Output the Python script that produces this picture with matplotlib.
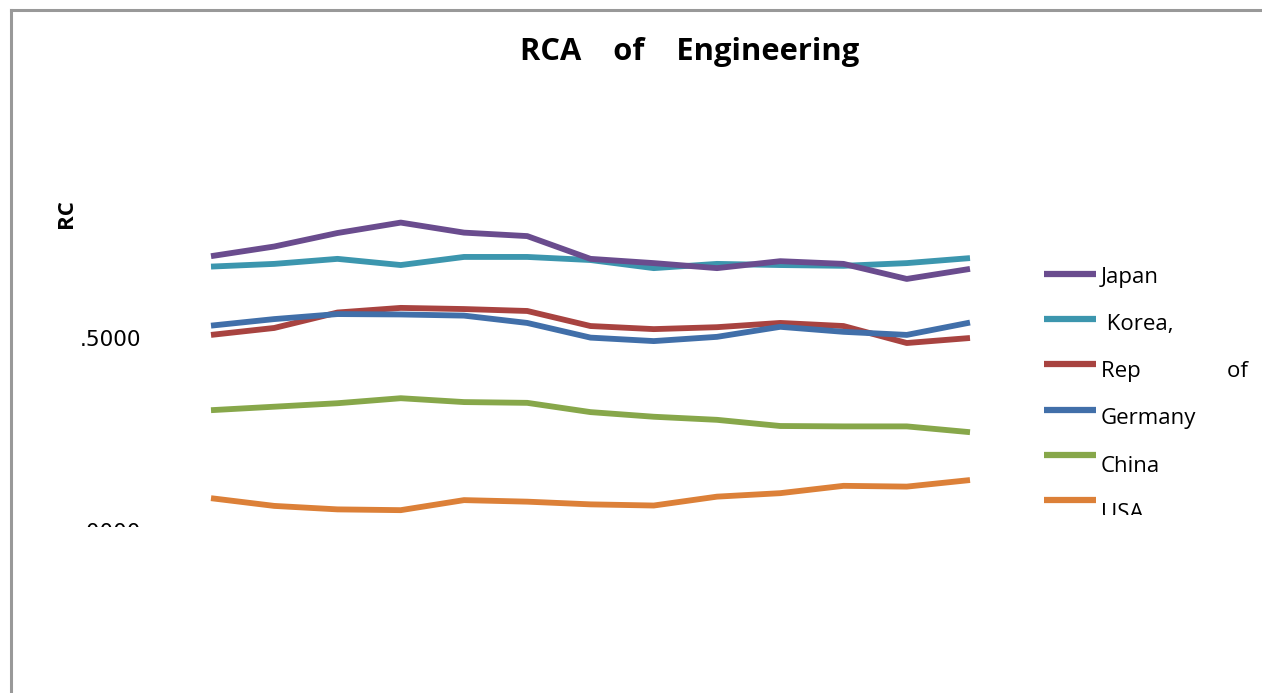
import matplotlib.pyplot as plt
from matplotlib.lines import Line2D
from matplotlib.patches import Rectangle

# Valores de RCA (13 anos)
anos = list(range(13))
japan = [1.712, 1.737, 1.772, 1.799, 1.773, 1.764, 1.705, 1.694, 1.681, 1.699, 1.692, 1.653, 1.679]
korea = [1.685, 1.692, 1.705, 1.689, 1.710, 1.710, 1.702, 1.681, 1.692, 1.689, 1.687, 1.694, 1.707]
germany = [1.532, 1.549, 1.562, 1.561, 1.558, 1.539, 1.501, 1.492, 1.503, 1.529, 1.516, 1.508, 1.540]
rep = [1.508, 1.526, 1.566, 1.578, 1.575, 1.570, 1.531, 1.523, 1.528, 1.539, 1.531, 1.487, 1.500]
china = [1.313, 1.322, 1.331, 1.344, 1.334, 1.332, 1.308, 1.296, 1.288, 1.272, 1.271, 1.271, 1.256]
usa = [1.085, 1.065, 1.056, 1.054, 1.080, 1.076, 1.069, 1.066, 1.089, 1.098, 1.117, 1.115, 1.132]

nomes = ['Japan', ' Korea,', 'Rep               of', 'Germany', 'China', 'USA']
series = [japan, korea, rep, germany, china, usa]
cores = ['#6a4c8e', '#3c96ae', '#a84340', '#416fa9', '#87a74a', '#dc8038']
ordem_desenho = [5, 4, 2, 3, 1, 0]

ticks = [1.0, 1.5]
tick_labels = ['.0000', '.5000']

W, H = 1262, 693
fig = plt.figure(figsize=(W / 100, H / 100), dpi=100)

# eixo: ponto 0 em x=211px, ponto 12 em x=970px; 1.0 em y=531px, 2.0 em y=145px
ax = fig.add_axes([211 / W, (H - 531) / H, (970 - 211) / W, 386 / H])
for i in ordem_desenho:
    ax.plot(anos, series[i], color=cores[i], linewidth=4.2, solid_capstyle='butt', clip_on=False)
ax.set_xlim(0, 12)
ax.set_ylim(1.0, 2.0)
ax.set_xticks([])
ax.set_yticks(ticks)
ax.set_yticklabels(tick_labels, fontsize=15.5, family='DejaVu Sans')
ax.tick_params(axis='y', length=0, pad=50)
for s in ax.spines.values():
    s.set_visible(False)

# título e rótulo do eixo
fig.text(690 / W, 1 - 52 / H, 'RCA    of    Engineering', ha='center', va='center',
         fontsize=22.2, fontweight='bold', family='Open Sans')
fig.text(66 / W, 1 - 214 / H, 'RC', rotation=90, ha='center', va='center',
         fontsize=16, fontweight='bold', family='Open Sans')

# legenda manual
for k, (nome, cor) in enumerate(zip(nomes, cores)):
    y = 1 - (274 + 45.2 * k) / H
    fig.add_artist(Line2D([1044 / W, 1096 / W], [y, y], color=cor, linewidth=4.5,
                          transform=fig.transFigure, solid_capstyle='butt'))
    fig.text(1101 / W, 1 - (277 + 47.3 * k) / H, nome, ha='left', va='center', fontsize=16,
             family='Open Sans')

# recortes da imagem original (parte de baixo cortada)
fig.add_artist(Rectangle((12 / W, 0), 1, (H - 527) / H, transform=fig.transFigure,
                         facecolor='white', edgecolor='none', zorder=10))
fig.add_artist(Rectangle((1098 / W, 0), 1, (H - 515) / H, transform=fig.transFigure,
                         facecolor='white', edgecolor='none', zorder=10))

# moldura cinza
fig.add_artist(Line2D([10.5 / W, 1], [1 - 9.5 / H, 1 - 9.5 / H], color='#999999',
                      linewidth=2.2, transform=fig.transFigure, zorder=11))
fig.add_artist(Line2D([10.5 / W, 10.5 / W], [0, 1 - 9.5 / H], color='#999999',
                      linewidth=2.2, transform=fig.transFigure, zorder=11))

fig.savefig('out.png', dpi=100, facecolor='white')
